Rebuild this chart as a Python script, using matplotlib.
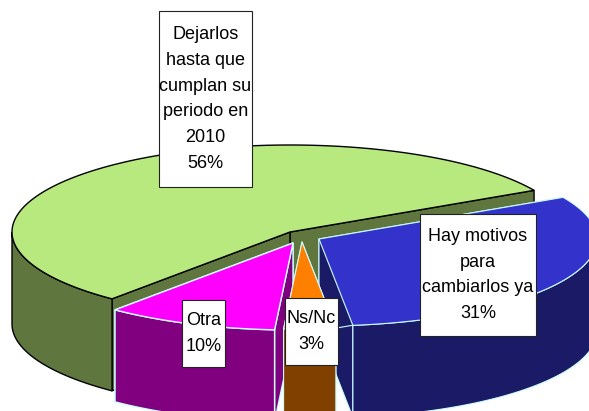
"""Exploded 3D-look pie chart, projected by hand onto a pixel-sized axes."""
import numpy as np
import matplotlib
matplotlib.use("Agg")
import matplotlib.pyplot as plt
from matplotlib.patches import Polygon, Rectangle

plt.rcParams["font.family"] = ["Liberation Sans", "DejaVu Sans"]

# data, in the order the slices run counter-clockwise from the start angle
LABELS = ["Dejarlos\nhasta que\ncumplan su\nperiodo en\n2010", "Otra", "Ns/Nc",
          "Hay motivos\npara\ncambiarlos ya"]
VALUES = [56, 10, 3, 31]

TOP_COLORS = ["#b8e97f", "#ff00ff", "#ff8000", "#3333cc"]
SIDE_COLORS = ["#5f773f", "#800080", "#804000", "#1a1a66"]
EDGE_COLORS = ["black", "#ccffff", "#ccffff", "#ccffff"]
EDGE_WIDTHS = [1.0, 1.0, 0.8, 0.8]

# slice apex in pixels (this is the explosion of each slice)
APEX = [(290, 232), (293, 243), (302, 242), (319, 239)]
# label boxes: left, top, right, bottom in pixels
BOXES = [(159, 11, 252, 187), (182, 300, 225, 367), (285, 298, 338, 365),
         (420, 214, 536, 336)]

RX, RY = 278, 87
DEPTH = 92
START = 28.6


def rim(cx, cy, a0, a1, n=80):
    t = np.radians(np.linspace(a0, a1, n))
    return np.column_stack([cx + RX * np.cos(t), cy - RY * np.sin(t)])


def draw_slice(ax, apex, a0, a1, top, side, edge, lw):
    cx, cy = apex
    down = np.array([0, DEPTH])
    # cut walls first, the top and the outer wall paint over the hidden ones
    for a in (a0, a1):
        p = rim(cx, cy, a, a, 1)[0]
        quad = [apex, p, p + down, np.array(apex) + down]
        ax.add_patch(Polygon(quad, closed=True, facecolor=side, edgecolor=edge,
                             linewidth=lw, joinstyle="round"))
    # outer wall on the part of the rim that faces the viewer
    for lo, hi in ((180, 360), (540, 720)):
        w0, w1 = max(a0, lo), min(a1, hi)
        if w1 > w0:
            r = rim(cx, cy, w0, w1)
            wall = np.vstack([r, (r + down)[::-1]])
            ax.add_patch(Polygon(wall, closed=True, facecolor=side, edgecolor=edge,
                                 linewidth=lw))
    r = rim(cx, cy, a0, a1, 200)
    ax.add_patch(Polygon(np.vstack([[apex], r]), closed=True, facecolor=top,
                         edgecolor=edge, linewidth=lw))


fig = plt.figure(figsize=(5.89, 4.11), dpi=100)
ax = fig.add_axes([0, 0, 1, 1])
ax.set_xlim(0, 589)
ax.set_ylim(411, 0)
ax.axis("off")

angles = START + np.concatenate([[0], np.cumsum(VALUES)]) * 3.6
spans = list(zip(angles[:-1], angles[1:]))

# paint order: back slice, blue, then the two small ones in front
for i in (0, 3, 1, 2):
    draw_slice(ax, APEX[i], spans[i][0], spans[i][1], TOP_COLORS[i], SIDE_COLORS[i],
               EDGE_COLORS[i], EDGE_WIDTHS[i])

for label, value, (x0, y0, x1, y1) in zip(LABELS, VALUES, BOXES):
    ax.add_patch(Rectangle((x0, y0), x1 - x0, y1 - y0, facecolor="white",
                           edgecolor="#222222", linewidth=0.8, zorder=5))
    ax.text((x0 + x1) / 2, (y0 + y1) / 2, f"{label}\n{value}%", ha="center", va="center",
            ma="center", fontsize=13, linespacing=1.68, color="black", zorder=6)

fig.savefig("out.png", dpi=100, facecolor="white")
